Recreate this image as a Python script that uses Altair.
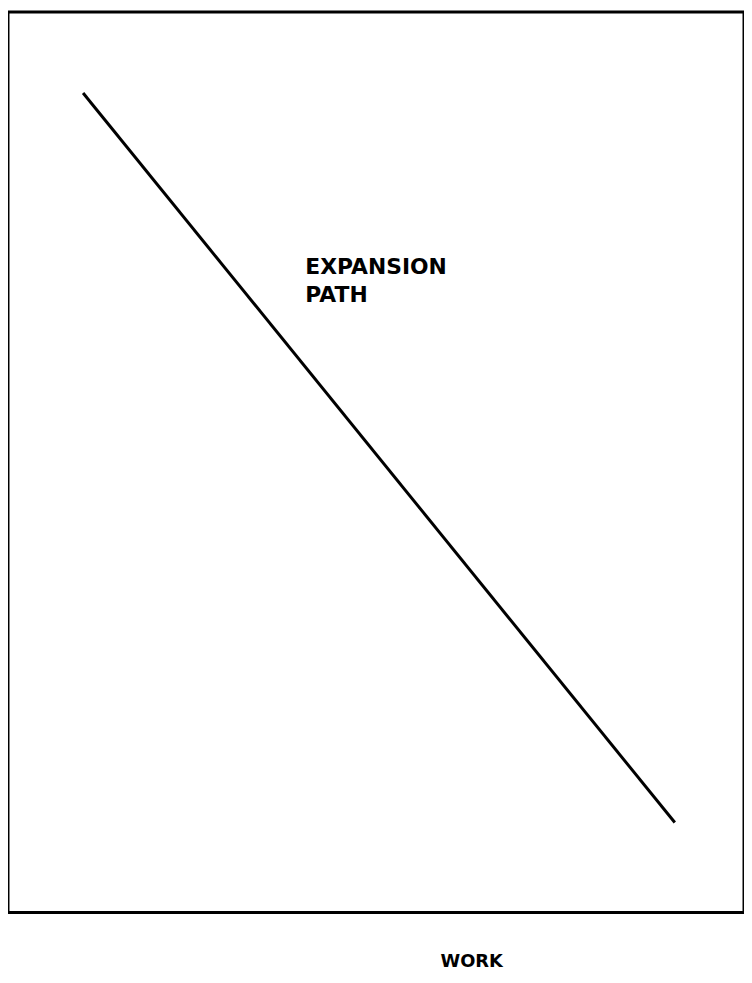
import altair as alt
import pandas as pd

# Expansion path line endpoints (work vs. other input, arbitrary units 0-100)
path_x = [10.2, 90.6]
path_y = [91.0, 10.0]

label_x = [40.4]
label_y = [70.9]
label_text = [["EXPANSION", "PATH"]]

x_title = "WORK"

line_df = pd.DataFrame({"x": path_x, "y": path_y})
label_df = pd.DataFrame({"x": label_x, "y": label_y, "t": label_text})

xscale = alt.Scale(domain=[0, 100], nice=False, zero=False)
yscale = alt.Scale(domain=[0, 100], nice=False, zero=False)

line = alt.Chart(line_df).mark_line(color="black", strokeWidth=3).encode(
    x=alt.X("x:Q", scale=xscale,
            axis=alt.Axis(title=x_title, labels=False, ticks=False, domain=False, grid=False,
                          titleFont="DejaVu Sans", titleFontSize=18, titleFontWeight="bold",
                          titleColor="black", titleX=467, titleY=54,
                          titleAlign="center", titleBaseline="alphabetic")),
    y=alt.Y("y:Q", scale=yscale,
            axis=alt.Axis(title=None, labels=False, ticks=False, domain=False, grid=False)),
)

label = alt.Chart(label_df).mark_text(
    align="left", baseline="alphabetic", font="DejaVu Sans", fontSize=22,
    fontWeight="bold", color="black", lineHeight=28
).encode(x="x:Q", y="y:Q", text="t")

chart = alt.layer(line, label).properties(
    width=742, height=908,
    padding={"left": 0, "top": 0, "right": 0, "bottom": 60},
    autosize=alt.AutoSizeParams(type="none"),
).configure(
    background="white",
    view=alt.ViewConfig(stroke="black", strokeWidth=3, fill="white"),
)

chart.save("out.html", embed_options={"renderer": "svg", "actions": False})
